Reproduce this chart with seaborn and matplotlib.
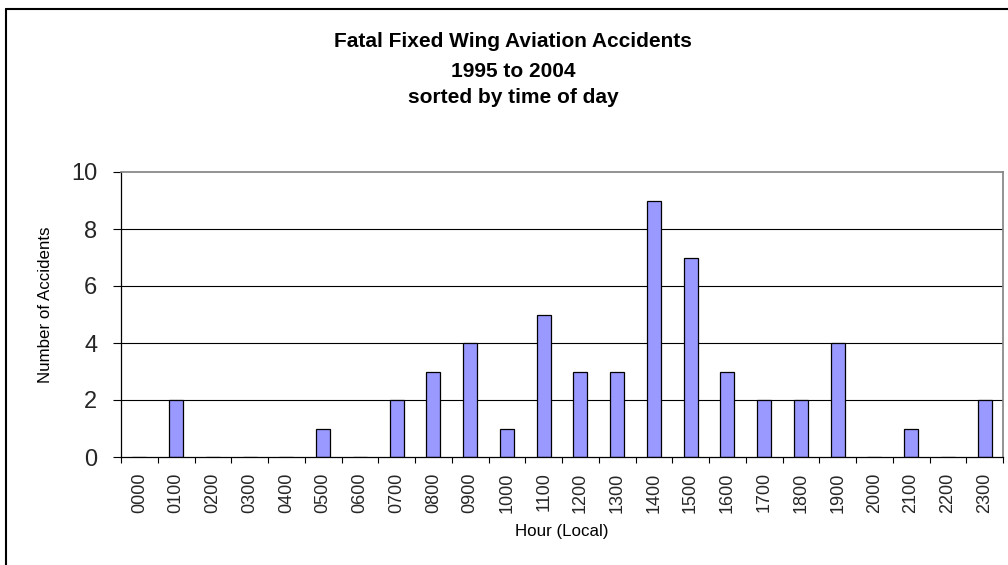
import numpy as np
import matplotlib
matplotlib.use('Agg')
import matplotlib.pyplot as plt
from matplotlib.lines import Line2D
import pandas as pd
import seaborn as sns

# hourly counts
hours = ['0000', '0100', '0200', '0300', '0400', '0500', '0600', '0700',
         '0800', '0900', '1000', '1100', '1200', '1300', '1400', '1500',
         '1600', '1700', '1800', '1900', '2000', '2100', '2200', '2300']
accidents = [0, 2, 0, 0, 0, 1, 0, 2, 3, 4, 1, 5, 3, 3, 9, 7, 3, 2, 2, 4, 0, 1, 0, 2]
title_lines = ['Fatal Fixed Wing Aviation Accidents', '1995 to 2004', 'sorted by time of day']

df = pd.DataFrame({'hour': hours, 'count': accidents})

sns.set_theme(style='white')
plt.rcParams['font.family'] = ['Liberation Sans', 'DejaVu Sans']

W, H = 1008, 565
fig = plt.figure(figsize=(W / 100, H / 100), dpi=100)
ax = fig.add_axes([121 / W, 1 - 457 / H, 882 / W, 285 / H])

# gridlines first so bars sit on top
for v in [2, 4, 6, 8]:
    ax.axhline(v, color='black', lw=0.8, zorder=0)

sns.barplot(data=df, x='hour', y='count', color='#9999FF', saturation=1,
            edgecolor='black', linewidth=0.9, width=0.38, ax=ax, zorder=2)

ax.set_xlim(-0.5, len(hours) - 0.5)
ax.set_ylim(0, 10)
ax.set_yticks([0, 2, 4, 6, 8, 10])
ax.tick_params(axis='y', which='major', direction='out', length=6, width=0.8,
               color='black', labelsize=17, pad=11, left=True)
ax.set_xticks(range(len(hours)))
ax.set_xticklabels(hours, rotation=90)
ax.tick_params(axis='x', which='major', length=0, labelsize=13, pad=11)
ax.set_xticks(np.arange(-0.5, len(hours)), minor=True)
ax.tick_params(axis='x', which='minor', direction='out', length=4, width=0.8,
               color='black', bottom=True)

for side in ['left', 'bottom']:
    ax.spines[side].set_color('black')
    ax.spines[side].set_linewidth(0.9)
for side in ['top', 'right']:
    ax.spines[side].set_visible(True)
    ax.spines[side].set_color('#808080')
    ax.spines[side].set_linewidth(1.2)

ax.set_ylabel('Number of Accidents', fontsize=12.2, color='black')
ax.yaxis.set_label_coords(-0.077, 0.533)
ax.set_xlabel('Hour (Local)', fontsize=12.2, color='black', va='top')
ax.xaxis.set_label_coords(0.5, -0.235)

# three-line bold title
for txt, base in zip(title_lines, [47, 77, 103]):
    fig.text(513 / W, 1 - base / H, txt, ha='center', va='baseline',
             fontsize=15, fontweight='bold', color='black')

# outer chart frame (left and top edges are visible)
fig.add_artist(Line2D([6 / W, 6 / W], [0, 1 - 9 / H], color='black', lw=1.5,
                      transform=fig.transFigure))
fig.add_artist(Line2D([6 / W, 1], [1 - 9 / H, 1 - 9 / H], color='black', lw=1.5,
                      transform=fig.transFigure))

fig.savefig('out.png', dpi=100)
